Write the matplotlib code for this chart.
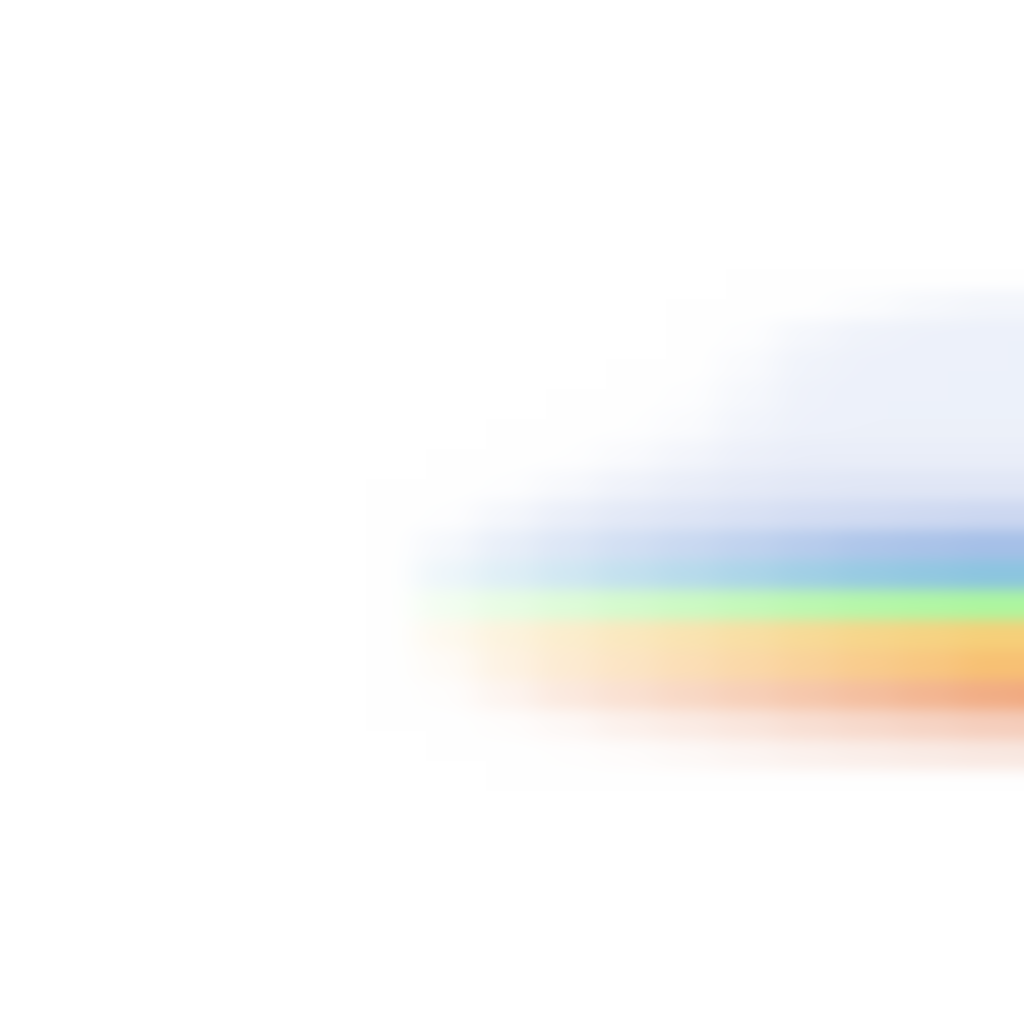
import numpy as np
import matplotlib
matplotlib.use("Agg")
import matplotlib.pyplot as plt
from matplotlib.colors import to_rgb

# Farbe je Zeile (oben -> unten), volle Stärke am rechten Rand
row_colors = [
    "#f2f5fb", "#edf1fa", "#edf1fa", "#edf1fa", "#edf1fa", "#eaeef9",
    "#e1e7f6", "#cdd8f1", "#a6c0e8", "#8cc5e0", "#adf7a0", "#f6d07a",
    "#f8c174", "#f1a97f", "#f4c8b4", "#f7e1d8",
]

# Intensität je Zelle (Zeilen x Spalten), 0 = weiss, 1 = volle Farbe
intensity = np.array([
    [0.00, 0.00, 0.00, 0.00, 0.00, 0.00, 0.05, 0.30, 0.65, 0.90, 0.90],
    [0.00, 0.00, 0.00, 0.00, 0.00, 0.10, 0.55, 0.85, 0.95, 1.00, 1.00],
    [0.00, 0.00, 0.00, 0.00, 0.00, 0.30, 0.80, 0.95, 1.00, 1.00, 1.00],
    [0.00, 0.00, 0.00, 0.00, 0.10, 0.50, 0.90, 1.00, 1.00, 1.00, 1.00],
    [0.00, 0.00, 0.00, 0.05, 0.25, 0.70, 0.95, 1.00, 1.00, 1.00, 1.00],
    [0.00, 0.00, 0.05, 0.25, 0.55, 0.85, 1.00, 1.00, 1.00, 1.00, 1.00],
    [0.00, 0.05, 0.25, 0.50, 0.70, 0.85, 0.95, 1.00, 1.00, 1.00, 1.00],
    [0.03, 0.20, 0.40, 0.55, 0.65, 0.75, 0.85, 0.90, 0.95, 1.00, 1.00],
    [0.10, 0.25, 0.38, 0.50, 0.60, 0.70, 0.80, 0.90, 0.95, 1.00, 1.00],
    [0.15, 0.28, 0.40, 0.52, 0.62, 0.72, 0.82, 0.90, 0.95, 1.00, 1.00],
    [0.15, 0.28, 0.40, 0.52, 0.62, 0.72, 0.82, 0.90, 0.95, 1.00, 1.00],
    [0.12, 0.25, 0.37, 0.48, 0.58, 0.68, 0.78, 0.87, 0.93, 1.00, 1.00],
    [0.06, 0.20, 0.32, 0.42, 0.52, 0.62, 0.72, 0.82, 0.90, 1.00, 1.00],
    [0.02, 0.12, 0.25, 0.35, 0.45, 0.55, 0.65, 0.75, 0.85, 0.95, 1.00],
    [0.00, 0.04, 0.12, 0.25, 0.35, 0.45, 0.58, 0.68, 0.78, 0.88, 0.92],
    [0.00, 0.00, 0.04, 0.10, 0.20, 0.32, 0.45, 0.55, 0.65, 0.75, 0.80],
])

# Raster-Geometrie in Pixeln
W = H = 1024
GRID_X0, CELL_W = 417, 60
GRID_Y0, CELL_H = 290, 30
SIGMA_X, SIGMA_Y = 17, 7


def gauss_kernel(sigma):
    r = int(3 * sigma)
    x = np.arange(-r, r + 1)
    k = np.exp(-0.5 * (x / sigma) ** 2)
    return k / k.sum()


def blur(img, sx, sy):
    """Separierbarer Gauss-Weichzeichner (numpy only)."""
    kx, ky = gauss_kernel(sx), gauss_kernel(sy)
    rx, ry = len(kx) // 2, len(ky) // 2
    p = np.pad(img, ((0, 0), (rx, rx), (0, 0)), mode="edge")
    tmp = np.zeros_like(img)
    for i, w in enumerate(kx):
        tmp += w * p[:, i:i + img.shape[1]]
    p = np.pad(tmp, ((ry, ry), (0, 0), (0, 0)), mode="edge")
    out = np.zeros_like(img)
    for i, w in enumerate(ky):
        out += w * p[i:i + img.shape[0]]
    return out


nrows, ncols = intensity.shape
base = np.array([to_rgb(c) for c in row_colors])

xs = np.arange(W) + 0.5
ys = np.arange(H) + 0.5
ci = np.floor((xs - GRID_X0) / CELL_W).astype(int)
ri = np.floor((ys - GRID_Y0) / CELL_H).astype(int)
vx = (ci >= 0) & (ci < ncols)
vy = (ri >= 0) & (ri < nrows)

R, C = np.meshgrid(np.clip(ri, 0, nrows - 1), np.clip(ci, 0, ncols - 1), indexing="ij")
mask = vy[:, None] & vx[None, :]
a = np.where(mask, intensity[R, C], 0.0)
img = 1.0 - a[..., None] * (1.0 - base[R])
img = np.clip(blur(img, SIGMA_X, SIGMA_Y), 0, 1)

fig = plt.figure(figsize=(10.24, 10.24), dpi=100)
ax = fig.add_axes([0, 0, 1, 1])
ax.imshow(img, extent=(0, W, H, 0), interpolation="nearest")
ax.set_xlim(0, W)
ax.set_ylim(H, 0)
ax.axis("off")
fig.savefig("out.png", dpi=100, facecolor="white")
